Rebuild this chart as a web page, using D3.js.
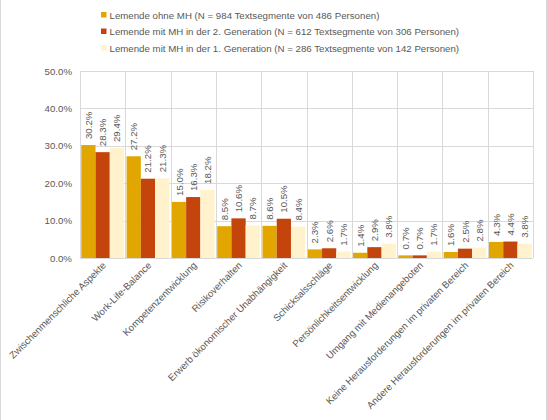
<!DOCTYPE html>
<html>
<head>
<meta charset="utf-8">
<script src="https://cdn.jsdelivr.net/npm/d3@7"></script>
<style>
  body { margin: 0; background: #fff; }
  svg { font-family: "Liberation Sans", Arial, sans-serif; }
</style>
</head>
<body>
<svg id="chart" width="547" height="420"></svg>
<script>
const categories = [
  "Zwischenmenschliche Aspekte", "Work-Life-Balance", "Kompetenzentwicklung",
  "Risikoverhalten", "Erwerb ökonomischer Unabhängigkeit", "Schicksalsschläge",
  "Persönlichkeitsentwicklung", "Umgang mit Medienangeboten",
  "Keine Herausforderungen im privaten Bereich", "Andere Herausforderungen im privaten Bereich"
];
const seriesNames = [
  "Lemende ohne MH (N = 984 Textsegmente von 486 Personen)",
  "Lemende mit MH in der 2. Generation (N = 612 Textsegmente von 306 Personen)",
  "Lemende mit MH in der 1. Generation (N = 286 Textsegmente von 142 Personen)"
];
const ohneMH = [30.2, 27.2, 15.0, 8.5, 8.6, 2.3, 1.4, 0.7, 1.6, 4.3];
const mh2Gen = [28.3, 21.2, 16.3, 10.6, 10.5, 2.6, 2.9, 0.7, 2.5, 4.4];
const mh1Gen = [29.4, 21.3, 18.2, 8.7, 8.4, 1.7, 3.8, 1.7, 2.8, 3.8];
const yTicks = [0, 10, 20, 30, 40, 50];
const colors = ["#E2A600", "#C4450C", "#FFF2CC"];

const series = [ohneMH, mh2Gen, mh1Gen];
const svg = d3.select("#chart");
const W = 547, H = 420;
const m = {left: 80, right: 14, top: 71, bottom: 162};
const FS = 9.7;

// outer frame
svg.append("rect").attr("x", 0.5).attr("y", -1).attr("width", W - 1).attr("height", H + 2)
  .attr("fill", "none").attr("stroke", "#d9d9d9");

const x = d3.scaleBand().domain(categories).range([m.left, W - m.right]);
const xs = d3.scaleBand().domain([0, 1, 2]).range([0, x.bandwidth()]).paddingOuter(0.09);
const y = d3.scaleLinear().domain([0, 50]).range([H - m.bottom, m.top]);

// grid
const grid = svg.append("g").attr("stroke", "#d9d9d9").attr("stroke-width", 1);
grid.selectAll("line.h").data(yTicks).enter().append("line")
  .attr("x1", m.left).attr("x2", W - m.right)
  .attr("y1", d => Math.round(y(d)) + 0.5).attr("y2", d => Math.round(y(d)) + 0.5);
grid.selectAll("line.v").data(d3.range(categories.length + 1)).enter().append("line")
  .attr("x1", i => Math.round(m.left + i * x.step()) + 0.5)
  .attr("x2", i => Math.round(m.left + i * x.step()) + 0.5)
  .attr("y1", y(50)).attr("y2", y(0));

// y axis labels
const yAxis = d3.axisLeft(y).tickValues(yTicks).tickSize(0).tickPadding(8)
  .tickFormat(d => d.toFixed(1) + "%");
svg.append("g").attr("transform", `translate(${m.left},0)`).call(yAxis)
  .call(g => g.select(".domain").remove())
  .selectAll("text").attr("fill", "#595959").attr("font-size", FS)
  .attr("font-family", "Liberation Sans, Arial, sans-serif");

// bars
const groups = svg.selectAll("g.cat").data(categories).enter().append("g")
  .attr("transform", d => `translate(${x(d)},0)`);
series.forEach((vals, si) => {
  groups.append("rect")
    .attr("x", xs(si)).attr("width", xs.bandwidth())
    .attr("y", (d, i) => y(vals[i])).attr("height", (d, i) => y(0) - y(vals[i]))
    .attr("fill", colors[si]);
  groups.append("text")
    .attr("transform", (d, i) => `translate(${xs(si) + xs.bandwidth() / 2 + 3.5},${y(vals[i]) - 6}) rotate(-90)`)
    .attr("font-size", FS).attr("fill", "#595959")
    .text((d, i) => vals[i].toFixed(1) + "%");
});

// x labels
svg.selectAll("text.xl").data(categories).enter().append("text")
  .attr("class", "xl")
  .attr("transform", d => `translate(${x(d) + x.bandwidth() / 2 + 4},${y(0) + 8}) rotate(-45)`)
  .attr("text-anchor", "end").attr("font-size", FS).attr("fill", "#595959")
  .text(d => d);

// legend
const leg = svg.selectAll("g.leg").data(seriesNames).enter().append("g")
  .attr("transform", (d, i) => `translate(101,${15 + i * 16.5})`);
leg.append("rect").attr("x", 0).attr("y", -3).attr("width", 5.5).attr("height", 5.5)
  .attr("fill", (d, i) => colors[i]);
leg.append("text").attr("x", 8.5).attr("y", 3.5).attr("font-size", FS).attr("fill", "#595959")
  .text(d => d);
</script>
</body>
</html>
